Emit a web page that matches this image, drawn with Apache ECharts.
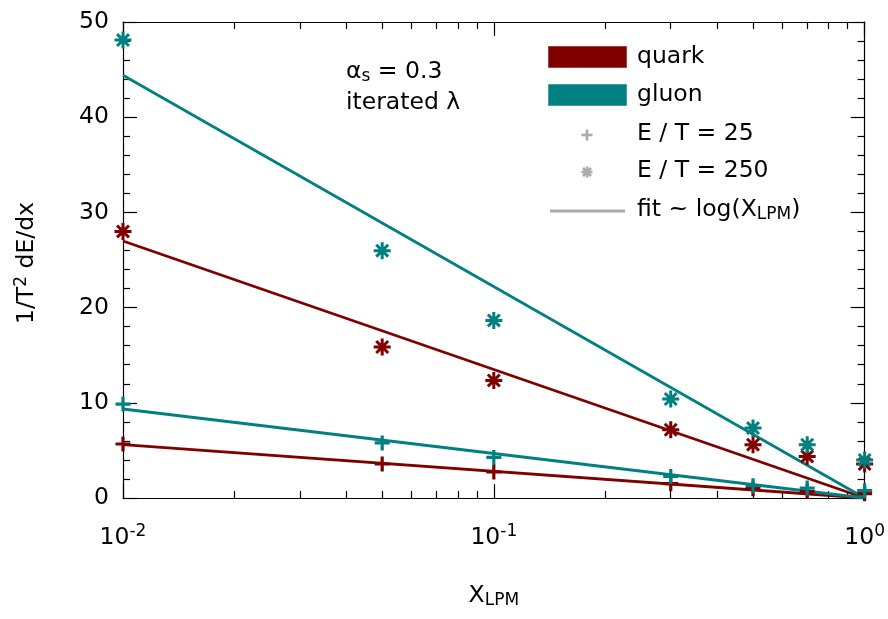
<!DOCTYPE html>
<html>
<head>
<meta charset="utf-8">
<script src="https://cdn.jsdelivr.net/npm/echarts@6/dist/echarts.min.js"></script>
<style>
  html, body { margin: 0; padding: 0; background: #fff; }
  #chart { width: 888px; height: 619px; }
</style>
</head>
<body>
<div id="chart"></div>
<script>
// x positions (X_LPM) of the computed points
const xValues = [0.01, 0.05, 0.1, 0.3, 0.5, 0.7, 1.0];

// energy loss 1/T^2 dE/dx, E/T = 25
const quark25 = [5.67, 3.57, 2.73, 1.50, 0.98, 0.70, 0.45];
const gluon25 = [9.87, 5.78, 4.26, 2.27, 1.29, 1.05, 0.77];

// energy loss 1/T^2 dE/dx, E/T = 250
const quark250 = [28.0, 15.86, 12.35, 7.17, 5.6, 4.37, 3.57];
const gluon250 = [48.1, 25.98, 18.65, 10.4, 7.35, 5.6, 4.0];

// log fits, evaluated at the ends of the x range
const fitX = [0.01, 1.0];
const quark25Fit = [5.6, 0];
const gluon25Fit = [9.35, 0];
const quark250Fit = [27.0, 0];
const gluon250Fit = [44.4, 0];

// axis tick values
const yMajorTicks = [0, 10, 20, 30, 40, 50];
const xMinorTicks = [0.02, 0.03, 0.04, 0.05, 0.06, 0.07, 0.08, 0.09,
                     0.2, 0.3, 0.4, 0.5, 0.6, 0.7, 0.8, 0.9];

const QUARK = '#800000';
const GLUON = '#008080';
const GREY = '#aaaaaa';
const FONT = '"DejaVu Sans", "Liberation Sans", Arial, sans-serif';
const FS = 23.5;
const FS_SMALL = 17;

const PLUS = 'path://M0,8L16,8M8,0L8,16';
const STAR = 'path://M0,8L16,8M8,0L8,16M2.4,2.4L13.6,13.6M13.6,2.4L2.4,13.6';

const AXIS_LINE = { show: true, onZero: false, lineStyle: { color: '#000', width: 1.2 } };
const NO_LINE = { show: false, onZero: false };
const TICK_STYLE = { color: '#000', width: 1.2 };

function pairs(xs, ys) { return xs.map((x, i) => [x, ys[i]]); }

function fitSeries(ys, color) {
  return {
    type: 'line', xAxisIndex: 0, yAxisIndex: 0,
    data: pairs(fitX, ys), symbol: 'none', silent: true,
    lineStyle: { color: color, width: 2.8 }, z: 2
  };
}
function pointSeries(ys, color, symbol, size, width) {
  return {
    type: 'scatter', xAxisIndex: 0, yAxisIndex: 0, clip: false,
    data: pairs(xValues, ys), symbol: symbol, symbolSize: size,
    itemStyle: { color: color, borderColor: color, borderWidth: width, opacity: 1 },
    z: 3
  };
}

function greyLine(x1, y1, x2, y2) {
  return { type: 'line', shape: { x1: x1, y1: y1, x2: x2, y2: y2 }, style: { stroke: GREY, lineWidth: 2.6 } };
}
function legendText(x, y, text) {
  return { type: 'text', x: x, y: y, style: { text: text, fontSize: FS, fontFamily: FONT, fill: '#000', verticalAlign: 'middle' } };
}

const tickLabelRich = {
  b: { fontSize: FS, fontFamily: FONT, color: '#000' },
  s: { fontSize: FS_SMALL, fontFamily: FONT, color: '#000', verticalAlign: 'top', padding: [0, 0, 12, 0] }
};

const logAxisBase = { type: 'log', logBase: 10, min: 0.01, max: 1, gridIndex: 0,
  splitLine: { show: false }, minorTick: { show: false }, minorSplitLine: { show: false } };
const logSpaceAxisBase = { type: 'value', min: -2, max: 0, gridIndex: 0,
  axisLine: NO_LINE, axisLabel: { show: false }, splitLine: { show: false } };

const option = {
  animation: false,
  backgroundColor: '#fff',
  grid: { left: 123, right: 23, top: 22, bottom: 121, containLabel: false },
  xAxis: [
    Object.assign({}, logAxisBase, {
      position: 'bottom',
      axisLine: AXIS_LINE,
      axisTick: { show: true, inside: true, length: 14, lineStyle: TICK_STYLE },
      axisLabel: {
        show: true, margin: 25,
        formatter: v => '{b|10}{s|' + Math.round(Math.log10(v)) + '}',
        rich: tickLabelRich
      },
      name: '{b|X}{sub|LPM}', nameLocation: 'middle', nameGap: 84,
      nameTextStyle: {
        rich: {
          b: { fontSize: FS, fontFamily: FONT, color: '#000' },
          sub: { fontSize: FS_SMALL, fontFamily: FONT, color: '#000', verticalAlign: 'bottom', padding: [10, 0, 0, 0] }
        }
      }
    }),
    Object.assign({}, logSpaceAxisBase, {
      position: 'bottom',
      axisTick: { show: true, inside: true, length: 7, lineStyle: TICK_STYLE,
        customValues: xMinorTicks.map(v => Math.log10(v)) }
    }),
    Object.assign({}, logAxisBase, {
      position: 'top',
      axisLine: AXIS_LINE,
      axisTick: { show: true, inside: true, length: 14, lineStyle: TICK_STYLE },
      axisLabel: { show: false }
    }),
    Object.assign({}, logSpaceAxisBase, {
      position: 'top',
      axisTick: { show: true, inside: true, length: 7, lineStyle: TICK_STYLE,
        customValues: xMinorTicks.map(v => Math.log10(v)) }
    })
  ],
  yAxis: [
    {
      type: 'value', position: 'left', min: yMajorTicks[0], max: yMajorTicks[yMajorTicks.length - 1], interval: 10,
      axisLine: AXIS_LINE,
      axisTick: { show: true, inside: true, length: 14, lineStyle: TICK_STYLE },
      minorTick: { show: true, splitNumber: 5, length: 7, lineStyle: TICK_STYLE },
      splitLine: { show: false },
      axisLabel: { show: true, margin: 14, fontSize: FS, fontFamily: FONT, color: '#000' }
    },
    {
      type: 'value', position: 'right', min: yMajorTicks[0], max: yMajorTicks[yMajorTicks.length - 1], interval: 10,
      axisLine: AXIS_LINE,
      axisTick: { show: true, inside: true, length: 14, lineStyle: TICK_STYLE },
      minorTick: { show: true, splitNumber: 5, length: 7, lineStyle: TICK_STYLE },
      splitLine: { show: false },
      axisLabel: { show: false }
    }
  ],
  series: [
    fitSeries(quark25Fit, QUARK),
    fitSeries(quark250Fit, QUARK),
    fitSeries(gluon25Fit, GLUON),
    fitSeries(gluon250Fit, GLUON),
    pointSeries(quark25, QUARK, PLUS, 15, 3.2),
    pointSeries(quark250, QUARK, STAR, 17, 3),
    pointSeries(gluon25, GLUON, PLUS, 15, 3.2),
    pointSeries(gluon250, GLUON, STAR, 17, 3)
  ],
  graphic: [
    // y axis title
    {
      type: 'text', x: 27, y: 263, rotation: Math.PI / 2,
      style: {
        text: '{n|1/T}{sup|2}{n| dE/dx}',
        align: 'center', verticalAlign: 'middle',
        rich: {
          n: { fontSize: FS, fontFamily: FONT, fill: '#000' },
          sup: { fontSize: FS_SMALL, fontFamily: FONT, fill: '#000', verticalAlign: 'top', padding: [0, 0, 10, 0] }
        }
      }
    },
    // annotations
    {
      type: 'text', x: 346, y: 72,
      style: {
        text: '{n|\u03b1}{sub|s}{n| = 0.3}', verticalAlign: 'middle',
        rich: {
          n: { fontSize: FS, fontFamily: FONT, fill: '#000' },
          sub: { fontSize: FS_SMALL, fontFamily: FONT, fill: '#000', verticalAlign: 'bottom', padding: [10, 0, 0, 0] }
        }
      }
    },
    legendText(346, 103, 'iterated \u03bb'),
    // legend: colour keys
    { type: 'rect', shape: { x: 548.5, y: 46.5, width: 78, height: 21 }, style: { fill: QUARK, stroke: '#a04040', lineWidth: 1 } },
    legendText(637, 57, 'quark'),
    { type: 'rect', shape: { x: 548.5, y: 84.5, width: 78, height: 21 }, style: { fill: GLUON, stroke: '#40a0a0', lineWidth: 1 } },
    legendText(637, 95, 'gluon'),
    // legend: marker keys
    greyLine(581.5, 135, 592.5, 135),
    greyLine(587, 129.5, 587, 140.5),
    legendText(637, 134, 'E / T = 25'),
    greyLine(581.5, 172, 592.5, 172),
    greyLine(587, 166.5, 587, 177.5),
    greyLine(583, 168, 591, 176),
    greyLine(591, 168, 583, 176),
    legendText(637, 171, 'E / T = 250'),
    { type: 'line', shape: { x1: 550, y1: 211, x2: 625, y2: 211 }, style: { stroke: GREY, lineWidth: 3 } },
    {
      type: 'text', x: 637, y: 210,
      style: {
        text: '{n|fit ~ log(X}{sub|LPM}{n|)}', verticalAlign: 'middle',
        rich: {
          n: { fontSize: FS, fontFamily: FONT, fill: '#000' },
          sub: { fontSize: FS_SMALL, fontFamily: FONT, fill: '#000', verticalAlign: 'bottom', padding: [9, 0, 0, 0] }
        }
      }
    }
  ]
};

const chart = echarts.init(document.getElementById('chart'), null, { renderer: 'canvas' });
chart.setOption(option);
</script>
</body>
</html>
